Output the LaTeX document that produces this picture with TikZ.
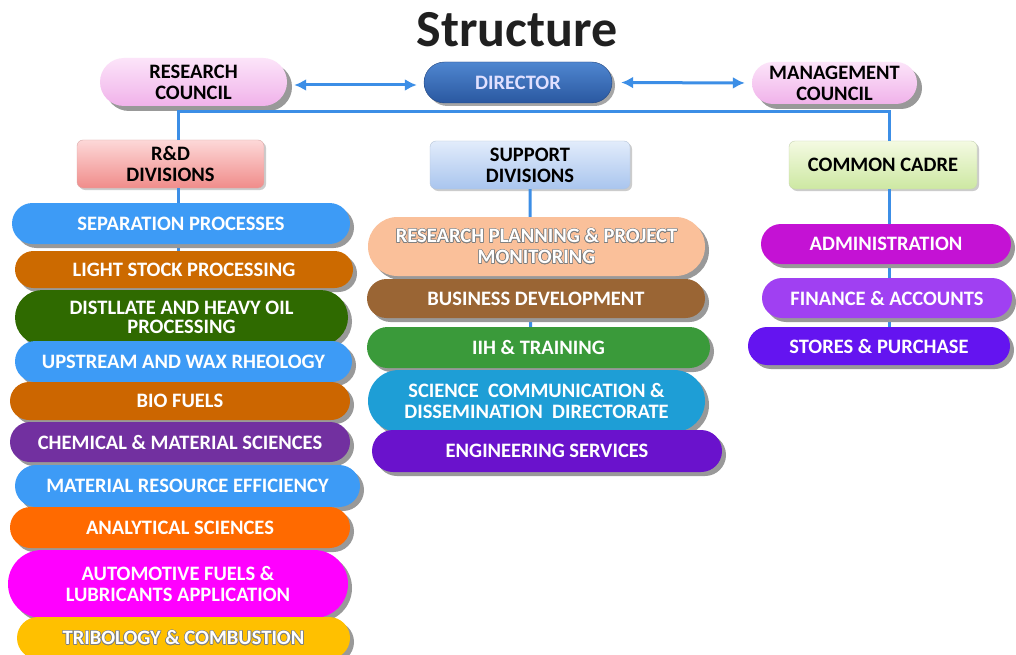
\documentclass[tikz,border=0pt]{standalone}
\usepackage{fontspec}
\setmainfont{Carlito}
\usepackage{contour}
\contourlength{0.6pt}
\usetikzlibrary{shapes.misc,shadows,arrows.meta}
\definecolor{linkblue}{HTML}{3C8EE6}
\definecolor{cSep}{HTML}{3D9BF6}
\definecolor{cLight}{HTML}{CC6A00}
\definecolor{cDist}{HTML}{2F6A00}
\definecolor{cBio}{HTML}{CC6600}
\definecolor{cChem}{HTML}{7230A0}
\definecolor{cAna}{HTML}{FF6A00}
\definecolor{cAuto}{HTML}{FF00FF}
\definecolor{cTrib}{HTML}{FFC000}
\definecolor{cRppm}{HTML}{FAC09A}
\definecolor{cBus}{HTML}{9A6534}
\definecolor{cIih}{HTML}{3A9A3A}
\definecolor{cSci}{HTML}{1E9ED6}
\definecolor{cEng}{HTML}{6A12CC}
\definecolor{cAdm}{HTML}{C412D4}
\definecolor{cFin}{HTML}{A040F2}
\definecolor{cSto}{HTML}{6414F0}
\definecolor{pinkTop}{HTML}{FCE4F9}
\definecolor{pinkBot}{HTML}{F0B2EA}
\definecolor{dirTop}{HTML}{4F86D0}
\definecolor{dirBot}{HTML}{2A58A0}
\definecolor{rdTop}{HTML}{FDD8D8}
\definecolor{rdBot}{HTML}{F08C8A}
\definecolor{sdTop}{HTML}{E2ECFB}
\definecolor{sdBot}{HTML}{A9C5EE}
\definecolor{ccTop}{HTML}{F4FAE2}
\definecolor{ccBot}{HTML}{CDE8A2}
\definecolor{titlecol}{HTML}{202020}
\tikzset{
  pill/.style={rounded rectangle, inner sep=0pt, text=white, align=center,
    font=\bfseries\fontsize{20.5}{21}\selectfont,
    drop shadow={shadow xshift=4pt, shadow yshift=-4pt, fill=black!40, opacity=1}},
  council/.style={rounded rectangle, inner sep=0pt, align=center, text=black,
    font=\bfseries\fontsize{20.5}{21}\selectfont,
    top color=pinkTop, bottom color=pinkBot,
    drop shadow={shadow xshift=5pt, shadow yshift=-5pt, fill=black!40, opacity=1}},
  divbox/.style={rectangle, rounded corners=6pt, inner sep=0pt, align=center, text=black,
    font=\bfseries\fontsize{20.5}{21}\selectfont,
    drop shadow={shadow xshift=2pt, shadow yshift=-2pt, fill=black!20, opacity=1}},
  conn/.style={draw=linkblue, line width=3pt},
  arr/.style={draw=linkblue, line width=3pt, {Latex[length=12pt,width=12pt]}-{Latex[length=12pt,width=12pt]}}
}
\begin{document}
\begin{tikzpicture}[x=1pt,y=-1pt]
\fill[white] (0,0) rectangle (1016,655);
\useasboundingbox (0,0) rectangle (1016,655);

\node[font=\bfseries\fontsize{52}{52}\selectfont, text=titlecol] (title) at (517,30) {Structure};

% top row
\node[council, minimum width=187pt, minimum height=48pt] (rc) at (193.5,82) {RESEARCH\\COUNCIL};
\node[rounded rectangle, inner sep=0pt, minimum width=188pt, minimum height=41pt,
      top color=dirTop, bottom color=dirBot, draw=dirBot!80!black, text=white!88!blue,
      font=\bfseries\fontsize{20.5}{21}\selectfont,
      drop shadow={shadow xshift=3pt, shadow yshift=-3pt, fill=black!35, opacity=1}] (dir) at (518,82.5) {DIRECTOR};
\node[council, minimum width=165pt, minimum height=42pt] (mc) at (834.5,83) {MANAGEMENT\\COUNCIL};

\draw[arr, shorten <=7pt, shorten >=7pt] (rc.east) ++(0,3) -- (dir.west |- 0,85);
\draw[arr, shorten <=9pt, shorten >=7pt] (dir.east) -- (mc.west);

% division boxes
\node[divbox, minimum width=187pt, minimum height=48pt, top color=rdTop, bottom color=rdBot, draw=rdBot!80!black!60] (rd) at (170.5,164) {R\&D\\DIVISIONS};
\node[divbox, minimum width=200pt, minimum height=48pt, top color=sdTop, bottom color=sdBot, draw=sdBot!80!black!60] (sd) at (530,165) {SUPPORT\\DIVISIONS};
\node[divbox, minimum width=188pt, minimum height=48pt, top color=ccTop, bottom color=ccBot, draw=ccBot!80!black!60] (cc) at (883,165) {COMMON CADRE};

\coordinate (busL) at (178,112);
\coordinate (busR) at (889,112);
\draw[conn] (rd.north -| busL) -- (busL) -- (busR) -- (cc.north -| busR);

% spines
\draw[conn] (rd.south -| busL) -- (178,630);
\draw[conn] (sd.south) -- (531,450);
\draw[conn] (cc.south -| busR) -- (889,346);

% left column
\node[pill, fill=cSep, minimum width=338pt, minimum height=41pt] (sep) at (181,223.5) {SEPARATION PROCESSES};
\node[pill, fill=cLight, minimum width=338pt, minimum height=37pt] (lsp) at (184,269.5) {LIGHT STOCK PROCESSING};
\node[pill, fill=cDist, minimum width=333pt, minimum height=55pt, font=\bfseries\fontsize{20.5}{18.5}\selectfont] (dhop) at (181.5,317.5) {DISTLLATE AND HEAVY OIL\\PROCESSING};
\node[pill, fill=cSep, minimum width=337pt, minimum height=41pt] (uwr) at (183.5,361.5) {UPSTREAM AND WAX RHEOLOGY};
\node[pill, fill=cBio, minimum width=340pt, minimum height=38pt] (bio) at (180,401) {BIO FUELS};
\node[pill, fill=cChem, minimum width=340pt, minimum height=40pt] (cms) at (180,442) {CHEMICAL \& MATERIAL SCIENCES};
\node[pill, fill=cSep, minimum width=345pt, minimum height=42pt] (mre) at (187.5,486) {MATERIAL RESOURCE EFFICIENCY};
\node[pill, fill=cAna, minimum width=340pt, minimum height=41pt] (ana) at (180,527.5) {ANALYTICAL SCIENCES};
\node[pill, fill=cAuto, minimum width=340pt, minimum height=68pt] (afl) at (178,584) {AUTOMOTIVE FUELS \&\\LUBRICANTS APPLICATION};
\node[pill, fill=cTrib, minimum width=333pt, minimum height=42pt] (tc) at (183.5,638) {\contour{gray}{TRIBOLOGY \& COMBUSTION}};

% middle column
\node[pill, fill=cRppm, minimum width=337pt, minimum height=59pt] (rppm) at (536.5,246.5) {\contour{gray}{RESEARCH PLANNING \& PROJECT}\\\contour{gray}{MONITORING}};
\node[pill, fill=cBus, minimum width=338pt, minimum height=39pt] (bd) at (536,298.5) {BUSINESS DEVELOPMENT};
\node[pill, fill=cIih, minimum width=343pt, minimum height=41pt] (iih) at (538.5,347.5) {IIH \& TRAINING};
\node[pill, fill=cSci, minimum width=337pt, minimum height=62pt] (scdd) at (536.5,401) {SCIENCE\ \ COMMUNICATION \&\\DISSEMINATION\ \ DIRECTORATE};
\node[pill, fill=cEng, minimum width=350pt, minimum height=42pt] (es) at (547,451) {ENGINEERING SERVICES};

% right column
\node[pill, fill=cAdm, minimum width=250pt, minimum height=40pt] (adm) at (886,244) {ADMINISTRATION};
\node[pill, fill=cFin, minimum width=250pt, minimum height=40pt] (fin) at (887,298) {FINANCE \& ACCOUNTS};
\node[pill, fill=cSto, minimum width=262pt, minimum height=38pt] (sto) at (879,346) {STORES \& PURCHASE};
\end{tikzpicture}
\end{document}
